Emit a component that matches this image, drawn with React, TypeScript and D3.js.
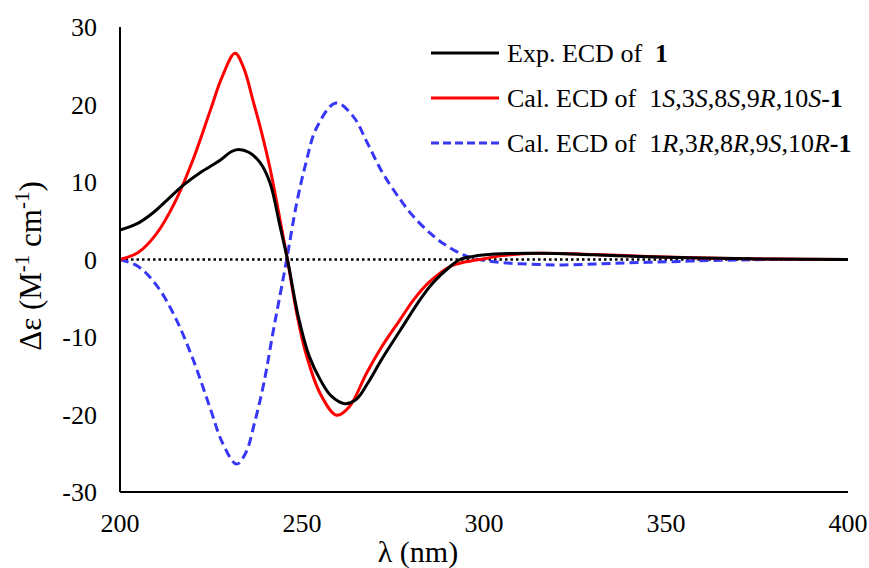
import React, { useRef, useEffect } from 'react';
import * as d3 from 'd3';

// experimental ECD of 1
const expWl = [200, 205, 209, 213, 217.4, 222, 227.5, 230.5, 232.5, 235.5, 238.5, 241.2, 244, 246, 249, 252, 255, 258, 261.8, 265, 268, 272, 276.9, 282.4, 286, 290.7, 293.4, 297, 303, 315, 330, 345, 360, 380, 400];
const expVal = [3.8, 4.7, 6.0, 7.7, 9.6, 11.2, 12.8, 13.9, 14.2, 13.8, 12.5, 9.9, 4.2, 0, -7.4, -12.5, -15.5, -17.6, -18.6, -18.0, -16.0, -12.8, -9.2, -5.2, -3.0, -0.9, 0, 0.4, 0.7, 0.8, 0.6, 0.35, 0.2, 0.05, 0];

// calculated 1S,3S,8S,9R,10S
const calSWl = [200, 205, 210, 215, 220, 225, 228, 231.6, 234, 236.6, 239, 241.2, 243.5, 246, 248.5, 251, 255, 259.5, 263, 267.7, 272, 276.9, 280.5, 285, 290.7, 295, 300, 305, 315, 330, 345, 360, 380, 400];
const calSVal = [0, 0.9, 3.3, 7.3, 12.8, 19.5, 23.5, 26.6, 24.7, 20.4, 16.2, 11.8, 6.3, 0, -6.8, -12.0, -17.3, -20.1, -19.0, -14.7, -11.2, -7.8, -5.3, -2.9, -0.9, -0.3, 0.1, 0.5, 0.8, 0.65, 0.4, 0.2, 0.05, 0];

// calculated 1R,3R,8R,9S,10R
const calRWl = [200, 205, 210, 215, 220, 225, 228, 232, 234.5, 237, 239.5, 242, 244, 245.8, 248.5, 251, 254, 259.3, 264, 268, 272, 276.9, 280.5, 285.2, 289, 293.4, 298, 305, 315, 322, 335, 350, 365, 380, 400];
const calRVal = [0, -0.9, -3.3, -7.3, -12.8, -19.5, -23.5, -26.4, -25, -21, -16, -9.5, -4.5, 0, 7.2, 12.3, 17, 20.2, 18.5, 15, 11.3, 7.8, 5.6, 3.4, 2.0, 0.8, 0.05, -0.4, -0.65, -0.7, -0.5, -0.3, -0.1, 0, 0];

const xTicks = [200, 250, 300, 350, 400];
const yTicks = [30, 20, 10, 0, -10, -20, -30];

const W = 869, H = 568;
const FONT = '"Times New Roman", Times, "Liberation Serif", serif';

export default function App() {
  const ref = useRef<SVGGElement>(null);

  useEffect(() => {
    const g = d3.select(ref.current);
    g.selectAll('*').remove();

    const x = d3.scaleLinear().domain([200, 400]).range([120, 848]);
    const y = d3.scaleLinear().domain([-30, 30]).range([492, 27]);

    // zero line (dotted)
    g.append('line')
      .attr('x1', x(200)).attr('x2', x(400))
      .attr('y1', y(0)).attr('y2', y(0))
      .attr('stroke', '#000').attr('stroke-width', 2.5)
      .attr('stroke-dasharray', '2.5,3');

    const line = d3.line<[number, number]>()
      .x(d => x(d[0])).y(d => y(d[1]))
      .curve(d3.curveCatmullRom.alpha(0.5));

    const series = [
      { wl: calRWl, v: calRVal, color: '#3737f5', dash: '9,5' },
      { wl: calSWl, v: calSVal, color: '#ff0000', dash: null },
      { wl: expWl, v: expVal, color: '#000000', dash: null },
    ];
    series.forEach(s => {
      const pts = s.wl.map((w, i) => [w, s.v[i]] as [number, number]);
      g.append('path')
        .attr('d', line(pts))
        .attr('fill', 'none')
        .attr('stroke', s.color)
        .attr('stroke-width', 3)
        .attr('stroke-dasharray', s.dash);
    });

    // axes
    g.append('line').attr('x1', x(200)).attr('x2', x(200)).attr('y1', y(30)).attr('y2', y(-30))
      .attr('stroke', '#000').attr('stroke-width', 2);
    g.append('line').attr('x1', x(200)).attr('x2', x(400)).attr('y1', y(-30)).attr('y2', y(-30))
      .attr('stroke', '#000').attr('stroke-width', 2);

    g.selectAll('.ytick').data(yTicks).enter().append('text')
      .attr('x', 97).attr('y', d => y(d)).attr('dy', '0.35em')
      .attr('text-anchor', 'end')
      .style('font-family', FONT).style('font-size', '26px')
      .text(d => d);

    g.selectAll('.xtick').data(xTicks).enter().append('text')
      .attr('x', d => x(d)).attr('y', 532)
      .attr('text-anchor', 'middle')
      .style('font-family', FONT).style('font-size', '26px')
      .text(d => d);
  }, []);

  const legend = [
    { color: '#000000', dash: undefined, y: 53 },
    { color: '#ff0000', dash: undefined, y: 98 },
    { color: '#3737f5', dash: '8,4', y: 143 },
  ];

  return (
    <svg width={W} height={H}
      style={{ position: 'absolute', left: 0, top: 0, background: '#fff' }}>
      <g ref={ref} />
      <text x={418} y={562} textAnchor="middle" style={{ fontFamily: FONT, fontSize: 30 }}>λ (nm)</text>
      <text transform="translate(41,266) rotate(-90)" textAnchor="middle" style={{ fontFamily: FONT, fontSize: 31 }}>
        Δε (M<tspan fontSize={21} dy={-12}>-1</tspan><tspan dy={12}> cm</tspan><tspan fontSize={21} dy={-12}>-1</tspan><tspan dy={12}>)</tspan>
      </text>
      {legend.map((l, i) => (
        <line key={i} x1={431} x2={499} y1={l.y} y2={l.y} stroke={l.color} strokeWidth={3} strokeDasharray={l.dash} />
      ))}
      <g style={{ fontFamily: FONT, fontSize: 26 }}>
        <text x={507} y={62} xmlSpace="preserve">Exp. ECD of  <tspan fontWeight="bold">1</tspan></text>
        <text x={507} y={107} xmlSpace="preserve">Cal. ECD of  1<tspan fontStyle="italic">S</tspan>,3<tspan fontStyle="italic">S</tspan>,8<tspan fontStyle="italic">S</tspan>,9<tspan fontStyle="italic">R</tspan>,10<tspan fontStyle="italic">S</tspan><tspan fontWeight="bold">-1</tspan></text>
        <text x={507} y={152} xmlSpace="preserve">Cal. ECD of  1<tspan fontStyle="italic">R</tspan>,3<tspan fontStyle="italic">R</tspan>,8<tspan fontStyle="italic">R</tspan>,9<tspan fontStyle="italic">S</tspan>,10<tspan fontStyle="italic">R</tspan><tspan fontWeight="bold">-1</tspan></text>
      </g>
    </svg>
  );
}
